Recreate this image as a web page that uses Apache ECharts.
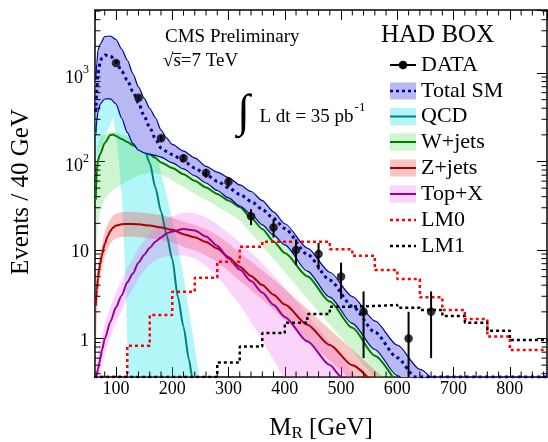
<!DOCTYPE html>
<html><head><meta charset="utf-8">
<script src="https://cdn.jsdelivr.net/npm/echarts@6/dist/echarts.min.js"></script>
<style>html,body{margin:0;padding:0;background:#fff}#c{width:548px;height:442px}</style>
</head><body><div id="c"></div>
<script>
// ---------------- data ----------------
const dataMR = [100,140,180,220,260,300,340,380,420,460,500,540,620,660];
const dataEvents = [1300,526,183,109,74,59,24,18,10,9,5,2,1,2];
const dataErr = [36,23,13.5,10.4,8.6,7.7,4.9,4.2,3.2,3,2.2,1.4,1,1.4];

const smUpper = [[64,834],[66,1300],[68,1820],[72,2127],[80,2585],[90,2618],[100,2391],[110,1868],[120,1403],[130,987],[140,695],[150,519],[160,397],[170,314],[180,227],[190,184],[200,156],[220,131],[240,110],[260,88],[280,76],[300,65.9],[320,54.3],[340,45.8],[360,36.2],[380,27.0],[400,19.8],[440,10.5],[480,5.6],[520,2.97],[560,1.58],[600,0.84],[640,0.447],[680,0.25]];
const smLower = [[64,217],[66,294],[68,362],[72,446],[80,508],[90,511],[100,446],[110,310],[120,213],[130,160],[140,134],[150,125],[160,121],[170,117],[180,112],[200,96.7],[220,82.3],[240,68.9],[260,57.1],[280,47.0],[300,38.7],[320,31.4],[340,25.5],[360,19.2],[380,14.7],[400,11.4],[440,5.78],[480,2.93],[520,1.48],[560,0.751],[600,0.381],[640,0.19]];
const smCentral = [[64,363],[66,643],[68,949],[70,1169],[72,1349],[75,1476],[80,1597],[90,1556],[100,1367],[110,1054],[120,834],[130,618],[140,458],[150,327],[160,242],[170,180],[180,142],[190,130],[200,120],[220,101],[240,84.5],[260,71.1],[280,59.9],[300,50.5],[320,42.5],[340,35.5],[360,28.8],[380,22.7],[400,17.5],[440,8.94],[480,4.56],[520,2.32],[560,1.18],[600,0.604],[632,0.368],[866,0.368]];

const qcdLine = [[64,200],[66,400],[68,600],[72,1000],[80,1250],[90,1200],[100,1050],[110,800],[120,580],[130,380],[140,240],[150,140],[160,96],[170,51],[180,27.2],[190,14.8],[200,7.9],[210,2.94],[220,1.35],[230,0.57],[235,0.377],[240,0.25]];
const qcdUpper = [[64,350],[68,800],[72,1300],[80,1600],[90,1500],[100,1300],[110,1000],[120,750],[130,550],[140,420],[150,300],[160,200],[170,130],[180,75],[190,42],[200,22],[210,11],[220,5],[230,2],[240,0.8],[250,0.3]];
const qcdLower = [[64,104],[72,142],[80,184],[90,265],[95,310],[100,199],[105,104],[110,41.8],[115,9.77],[118,2.72],[120,0.96],[122,0.367],[125,0.15],[250,0.15]];

const wLine = [[64,36.7],[66,80],[68,104],[72,122],[80,162],[90,199],[95,202],[100,194],[110,180],[120,166],[130,153],[140,141],[150,131],[160,120],[170,110],[180,97.7],[200,84.5],[220,71.8],[240,60.5],[260,50.8],[280,43.0],[300,36.2],[320,30.5],[340,23.2],[360,17.3],[380,12.5],[400,9.25],[440,5.05],[480,2.61],[520,1.32],[560,0.64],[600,0.3]];
const wUpper = [[64,60],[68,160],[72,190],[80,200],[90,215],[100,215],[110,200],[120,190],[140,170],[160,145],[180,125],[200,108],[240,80],[280,58],[300,42],[340,27],[380,15.5],[400,12],[440,6],[480,3.1],[520,1.55],[560,0.8],[600,0.4],[620,0.28]];
const wLower = [[64,7.7],[66,13],[68,19.2],[72,26.9],[80,38],[90,45],[100,50],[120,60],[140,70],[160,75],[180,72],[200,61],[220,51.5],[240,42.9],[260,36.7],[280,31],[300,26.2],[320,21.5],[340,15.6],[360,11.1],[380,7.91],[400,5.64],[440,2.82],[480,1.44],[520,0.73],[560,0.35],[600,0.2]];

const zLine = [[64,2.33],[66,3.53],[68,4.83],[70,5.94],[72,6.95],[75,8.78],[80,11.7],[85,14.2],[90,16.4],[95,18.0],[100,18.9],[110,19.5],[120,19.7],[140,19.5],[160,18.9],[180,18.0],[200,16.9],[220,15.1],[240,13.9],[260,12.3],[280,10.4],[300,8.3],[320,6.47],[340,5.09],[360,4.01],[380,3.12],[400,2.42],[440,1.43],[480,0.843],[520,0.498],[560,0.294]];
const zUpper = [[64,4.5],[66,5.6],[68,6.9],[70,8.2],[72,9.5],[75,12],[80,16],[85,19.4],[90,22.5],[95,24.7],[100,25.9],[110,26.7],[120,27],[140,26.7],[160,25.9],[180,24.7],[200,23.2],[220,20.8],[240,19.3],[260,17.2],[280,14.7],[300,11.8],[320,9.3],[340,7.4],[360,5.9],[380,4.65],[400,3.63],[440,2.15],[480,1.26],[520,0.75],[560,0.44],[600,0.26]];
const zLower = [[64,0.8],[66,1.8],[68,2.9],[70,3.9],[72,4.8],[75,6.2],[80,8.4],[85,10.2],[90,11.8],[95,13],[100,13.6],[110,14],[120,14.2],[140,14],[160,13.6],[180,13],[200,12.2],[220,10.8],[240,9.9],[260,8.7],[280,7.3],[300,5.8],[320,4.5],[340,3.5],[360,2.75],[380,2.12],[400,1.62],[440,0.96],[480,0.56],[520,0.33],[560,0.2],[600,0.11]];

const topLine = [[64,0.35],[66,0.396],[68,0.451],[70,0.514],[72,0.591],[75,0.734],[80,0.99],[90,1.54],[100,2.25],[110,3.05],[120,4.31],[130,5.41],[140,7.2],[150,8.8],[160,10.6],[170,12.4],[180,13.8],[190,15.4],[200,16.2],[220,17.3],[240,16.6],[260,14.2],[280,11.2],[300,8.0],[320,6.0],[340,4.45],[360,3.3],[380,2.4],[400,1.75],[440,0.93],[480,0.5],[500,0.37],[520,0.27]];
const topUpper = [[64,0.52],[66,0.59],[68,0.67],[70,0.76],[72,0.87],[75,1.09],[80,1.47],[90,2.28],[100,3.3],[110,4.5],[120,6.3],[130,7.9],[140,10.5],[150,12.8],[160,15.2],[170,17.8],[180,20],[190,22.5],[200,24],[220,26.5],[240,26],[260,23.5],[280,19.5],[300,15.5],[320,12.3],[340,9.5],[360,7.1],[380,5.2],[400,3.7],[440,1.85],[480,0.9],[500,0.62],[520,0.42],[540,0.28]];
const topLower = [[64,0.24],[66,0.27],[68,0.3],[70,0.34],[72,0.39],[75,0.49],[80,0.67],[90,1.04],[100,1.52],[110,2.05],[120,2.9],[130,3.6],[140,4.8],[150,5.8],[160,6.9],[170,7.6],[180,8.1],[190,8.5],[200,8.6],[220,8.7],[240,8.0],[260,6.6],[280,5.0],[300,3.5],[320,2.4],[340,1.55],[360,0.95],[380,0.57],[400,0.34],[440,0.12],[480,0.05],[540,0.01]];

// signal histograms: 40 GeV bins; 0.368 = empty bin drawn on the axis floor
const binEdges = [40,80,120,160,200,240,280,320,360,400,440,480,520,560,600,640,680,720,760,800,840,880];
const lm0Values = [0.368,0.368,0.83,1.84,3.38,4.86,7.38,10.9,12.4,12.4,12.4,10.2,8.6,5.94,4.7,2.92,2.10,1.66,1.05,0.74,0.74];
const lm1Values = [0.368,0.368,0.368,0.368,0.368,0.368,0.535,0.81,1.15,1.51,1.89,2.29,2.33,2.39,2.23,2.10,1.79,1.51,1.22,0.96,0.96];

const xTickLabels = [100,200,300,400,500,600,700,800];
const legendLabels = ['DATA','Total SM','QCD','W+jets','Z+jets','Top+X','LM0','LM1'];

// ---------------- setup ----------------
const xMin = 62.7, xMax = 866, yMin = 0.367, yMax = 5150;
const F = "'Liberation Serif', 'Times New Roman', serif";
const cyanFill = 'rgba(0,225,230,0.30)';
const greenFill = 'rgba(70,215,70,0.26)';
const redFill = 'rgba(235,70,70,0.32)';
const pinkFill = 'rgba(240,90,240,0.26)';
const blueFill = '#b8b8f2';
const dkBlue = '#000099';

function stepData(vals) {
  const d = vals.map((v, i) => [binEdges[i], v]);
  d.push([binEdges[vals.length], vals[vals.length - 1]]);
  return d;
}
function band(up, low, fill, z) {
  return {
    type: 'custom', z: z, clip: true, silent: true, data: [[100, 1]],
    renderItem: function (params, api) {
      const pts = [];
      for (const p of up) pts.push(api.coord(p));
      for (let i = low.length - 1; i >= 0; i--) pts.push(api.coord(low[i]));
      return { type: 'polygon', shape: { points: pts }, style: { fill: fill } };
    }
  };
}
function curve(d, color, width, z, dash) {
  return {
    type: 'line', data: d, z: z, showSymbol: false, symbol: 'none', clip: true, silent: true,
    smooth: 0.25, smoothMonotone: 'x',
    lineStyle: { color: color, width: width, type: dash || 'solid' }
  };
}

const ctx = document.createElement('canvas').getContext('2d');
function tw(t, font) { ctx.font = font; return ctx.measureText(t).width; }

const axisCommon = {
  axisLine: { show: true, onZero: false, lineStyle: { color: '#000', width: 1.5 } },
  axisTick: { show: true, inside: true, length: 10, lineStyle: { color: '#000', width: 1 } },
  splitLine: { show: false }, minorTick: { show: false }
};

// ---------------- graphic (texts + legend) ----------------
const g = [];
g.push({ type: 'text', x: 165, y: 37.5, style: { text: 'CMS Preliminary', font: '19px ' + F, fill: '#000', align: 'left', verticalAlign: 'middle' } });
const f19 = '19px ' + F;
g.push({ type: 'text', x: 163, y: 61.5, style: { text: '\u221As=7 TeV', font: f19, fill: '#000', align: 'left', verticalAlign: 'middle' } });
(function () {
  const a = 163 + tw('\u221A', f19), b = 163 + tw('\u221As', f19);
  g.push({ type: 'line', shape: { x1: a - 0.5, y1: 53.5, x2: b + 0.5, y2: 53.5 }, style: { stroke: '#000', lineWidth: 1 } });
})();
g.push({ type: 'text', x: 243.5, y: 113.5, style: { text: '\u222B', font: '46px ' + F, fill: '#000', align: 'center', verticalAlign: 'middle' } });
g.push({ type: 'text', x: 259.5, y: 117, style: { text: 'L dt = 35 pb', font: f19, fill: '#000', align: 'left', verticalAlign: 'middle' } });
g.push({ type: 'text', x: 259.5 + tw('L dt = 35 pb', f19) + 1, y: 108, style: { text: '-1', font: '13px ' + F, fill: '#000', align: 'left', verticalAlign: 'middle' } });
g.push({ type: 'text', x: 381, y: 35, style: { text: 'HAD BOX', font: '25px ' + F, fill: '#000', align: 'left', verticalAlign: 'middle' } });

const legY = [65, 91, 116.5, 142, 168, 194, 220, 246];
const legStyle = [
  { kind: 'data' },
  { fill: blueFill, line: dkBlue, dash: [3, 3], w: 2.5 },
  { fill: cyanFill, line: '#008080', w: 2 },
  { fill: greenFill, line: '#007a00', w: 2 },
  { fill: redFill, line: '#aa0000', w: 2 },
  { fill: pinkFill, line: '#990099', w: 2 },
  { fill: null, line: '#ff0000', dash: [3, 3], w: 2.5 },
  { fill: null, line: '#000000', dash: [3, 3], w: 2.5 }
];
legendLabels.forEach((lab, i) => {
  const y = legY[i], s = legStyle[i];
  if (s.kind === 'data') {
    g.push({ type: 'line', shape: { x1: 390, y1: y, x2: 416, y2: y }, style: { stroke: '#000', lineWidth: 2 } });
    g.push({ type: 'circle', shape: { cx: 403, cy: y, r: 4.3 }, style: { fill: '#000' } });
  } else {
    if (s.fill) g.push({ type: 'rect', shape: { x: 390, y: y - 8.5, width: 26, height: 17 }, style: { fill: s.fill } });
    g.push({ type: 'line', shape: { x1: 390, y1: y, x2: 416, y2: y }, style: { stroke: s.line, lineWidth: s.w, lineDash: s.dash || null } });
  }
  g.push({ type: 'text', x: 421, y: y, style: { text: lab, font: '22px ' + F, fill: '#000', align: 'left', verticalAlign: 'middle' } });
});

// axis titles
g.push({ type: 'text', x: 21, y: 192, rotation: Math.PI / 2, style: { text: 'Events / 40 GeV', font: '25px ' + F, fill: '#000', align: 'center', verticalAlign: 'middle' } });
(function () {
  const fM = '25px ' + F, fR = '17px ' + F;
  const wM = tw('M', fM), wR = tw('R', fR), wG = tw(' [GeV]', fM);
  const total = wM + wR + wG, x0 = 321 - total / 2;
  g.push({ type: 'text', x: x0, y: 428, style: { text: 'M', font: fM, fill: '#000', align: 'left', verticalAlign: 'middle' } });
  g.push({ type: 'text', x: x0 + wM, y: 434, style: { text: 'R', font: fR, fill: '#000', align: 'left', verticalAlign: 'middle' } });
  g.push({ type: 'text', x: x0 + wM + wR, y: 428, style: { text: ' [GeV]', font: fM, fill: '#000', align: 'left', verticalAlign: 'middle' } });
})();

// ---------------- series ----------------
const series = [
  band(qcdUpper, qcdLower, cyanFill, 1),
  band(wUpper, wLower, greenFill, 1),
  band(zUpper, zLower, redFill, 1),
  band(topUpper, topLower, pinkFill, 1),
  curve(qcdLine, '#008080', 2, 2),
  curve(wLine, '#007a00', 2, 2),
  curve(zLine, '#aa0000', 2, 2),
  curve(topLine, '#990099', 2, 2),
  band(smUpper, smLower, blueFill, 3),
  curve(smUpper, dkBlue, 1.2, 4),
  curve(smLower, dkBlue, 1.2, 4),
  curve(smCentral, dkBlue, 3, 4, [3, 3.5]),
  { type: 'line', step: 'end', data: stepData(lm0Values), z: 5, showSymbol: false, symbol: 'none', clip: true, silent: true,
    lineStyle: { color: '#ff0000', width: 2.5, type: [3, 3] } },
  { type: 'line', step: 'end', data: stepData(lm1Values), z: 5, showSymbol: false, symbol: 'none', clip: true, silent: true,
    lineStyle: { color: '#000000', width: 2.5, type: [3, 3] } },
  { type: 'custom', z: 6, clip: true, silent: true,
    data: dataMR.map((x, i) => [x, dataEvents[i], dataErr[i]]),
    renderItem: function (params, api) {
      const x = api.value(0), y = api.value(1), e = api.value(2);
      const p1 = api.coord([x, y + e]), p2 = api.coord([x, Math.max(y - e, 1e-3)]);
      return { type: 'line', shape: { x1: p1[0], y1: p1[1], x2: p2[0], y2: p2[1] }, style: { stroke: '#000', lineWidth: 2 } };
    } },
  { type: 'scatter', z: 7, silent: true, symbol: 'circle', symbolSize: 8.5,
    data: dataMR.map((x, i) => [x, dataEvents[i]]), itemStyle: { color: '#000' } },
  { type: 'custom', z: 8, silent: true, data: [[100, 1]],
    renderItem: function (params, api) {
      const ch = [];
      const xl = api.coord([xMin, 1])[0], xr = api.coord([xMax, 1])[0];
      const yb = api.coord([100, yMin])[1], yt = api.coord([100, yMax])[1];
      const st = { stroke: '#000', lineWidth: 1 };
      for (let v = 80; v < xMax; v += 20) {
        if (v % 100 === 0) continue;
        const px = api.coord([v, 1])[0];
        ch.push({ type: 'line', shape: { x1: px, y1: yb, x2: px, y2: yb - 5.5 }, style: st });
        ch.push({ type: 'line', shape: { x1: px, y1: yt, x2: px, y2: yt + 5.5 }, style: st });
      }
      for (let k = -1; k <= 3; k++) for (let m = 2; m <= 9; m++) {
        const v = m * Math.pow(10, k);
        if (v <= yMin || v >= yMax) continue;
        const py = api.coord([100, v])[1];
        ch.push({ type: 'line', shape: { x1: xl, y1: py, x2: xl + 5.5, y2: py }, style: st });
        ch.push({ type: 'line', shape: { x1: xr, y1: py, x2: xr - 5.5, y2: py }, style: st });
      }
      return { type: 'group', children: ch };
    } }
];

const option = {
  animation: false,
  backgroundColor: '#ffffff',
  grid: { left: 95, right: 1, top: 10, bottom: 65, containLabel: false },
  xAxis: [
    Object.assign({ type: 'value', min: xMin, max: xMax, splitNumber: 8, position: 'bottom',
      axisLabel: { show: true, color: '#000', fontFamily: F, fontSize: 18, margin: 3, showMinLabel: false, showMaxLabel: false,
        formatter: v => (xTickLabels.indexOf(Math.round(v)) >= 0 && Math.abs(v - Math.round(v)) < 1e-6) ? String(Math.round(v)) : '' } }, axisCommon),
    Object.assign({ type: 'value', min: xMin, max: xMax, splitNumber: 8, position: 'top', axisLabel: { show: false } }, axisCommon)
  ],
  yAxis: [
    Object.assign({ type: 'log', logBase: 10, min: yMin, max: yMax, position: 'left',
      axisLabel: { show: true, color: '#000', fontFamily: F, fontSize: 18, margin: 6, showMinLabel: false, showMaxLabel: false,
        formatter: function (v) {
          const l = Math.log10(v), e = Math.round(l);
          if (Math.abs(l - e) > 1e-6) return '';
          if (e === 0) return '{n|1}';
          if (e === 1) return '{n|10}';
          return '{b|10}{s|' + e + '}';
        },
        rich: {
          n: { fontFamily: F, fontSize: 18, color: '#000', padding: [5, 0, 0, 0] },
          b: { fontFamily: F, fontSize: 18, color: '#000', padding: [10, 0, 0, 0] },
          s: { fontFamily: F, fontSize: 12, color: '#000', verticalAlign: 'top', padding: [5, 0, 0, 0] }
        } } }, axisCommon),
    Object.assign({ type: 'log', logBase: 10, min: yMin, max: yMax, position: 'right', axisLabel: { show: false } }, axisCommon)
  ],
  graphic: { elements: g.map(e => Object.assign({ z: 100 }, e)) },
  series: series
};

const chart = echarts.init(document.getElementById('c'), null, { renderer: 'canvas' });
chart.setOption(option);
</script>
</body></html>
